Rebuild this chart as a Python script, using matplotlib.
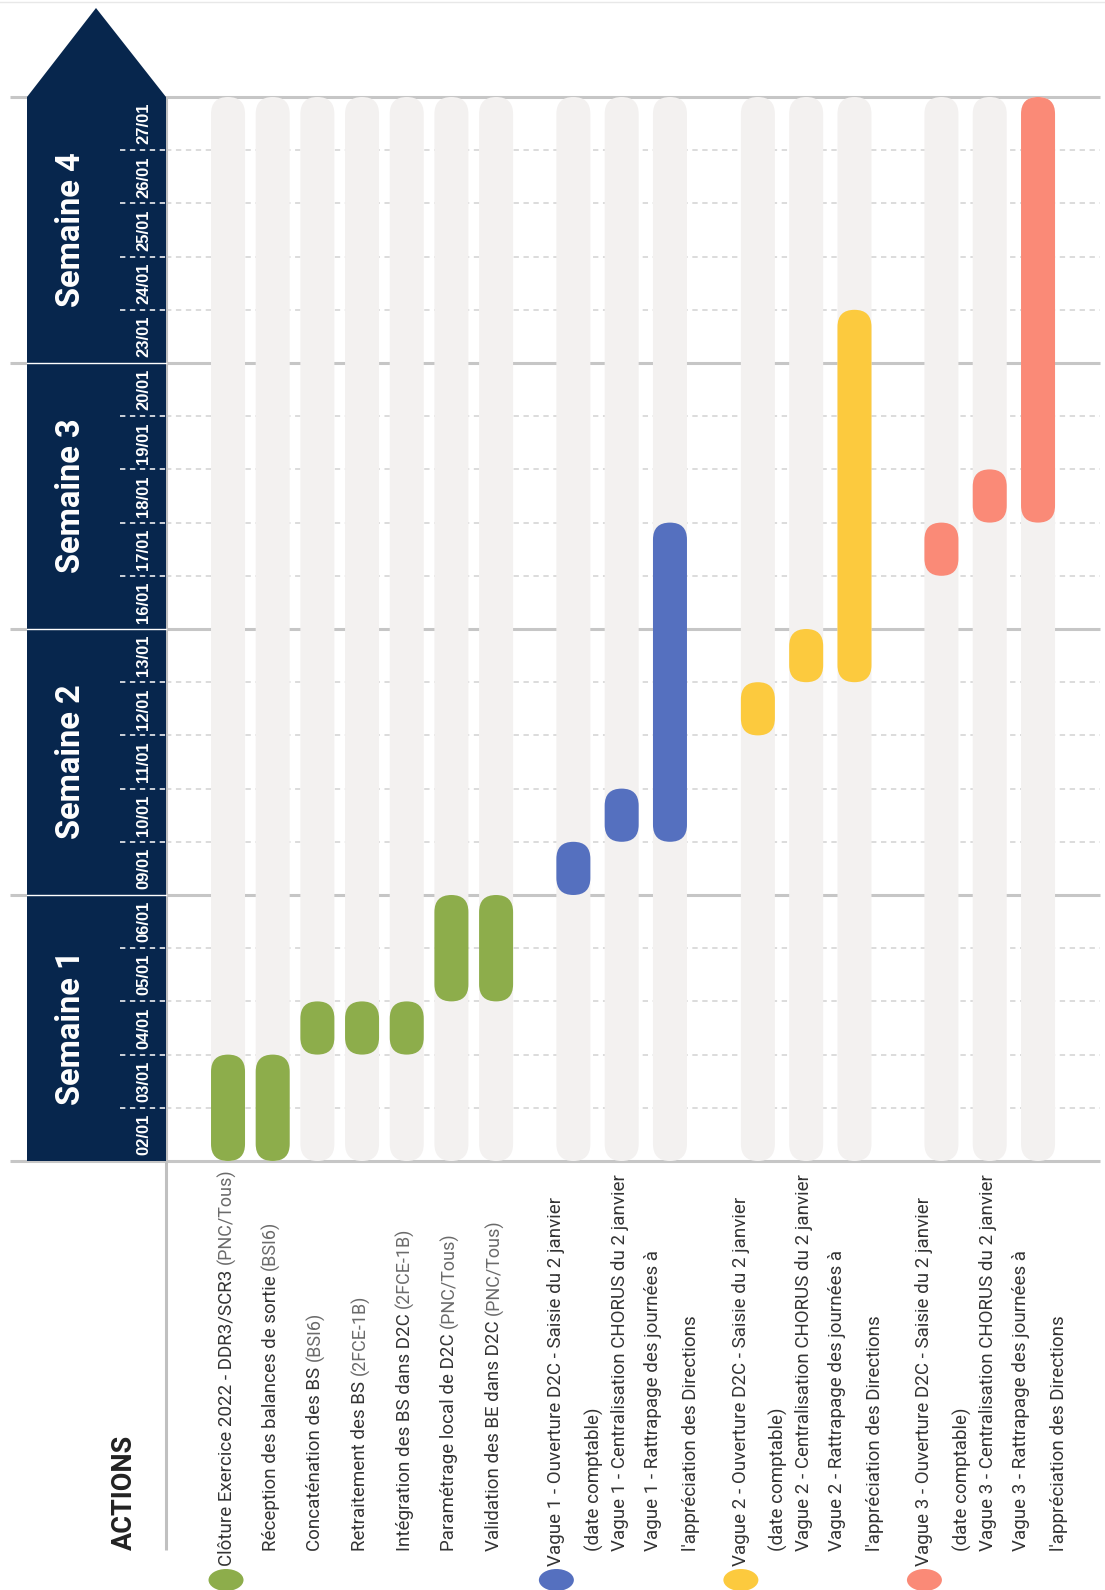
import matplotlib
matplotlib.use("Agg")
import matplotlib.pyplot as plt
import numpy as np
from matplotlib.patches import Ellipse, FancyBboxPatch, Polygon


DAYS = [
    "02/01", "03/01", "04/01", "05/01", "06/01",
    "09/01", "10/01", "11/01", "12/01", "13/01",
    "16/01", "17/01", "18/01", "19/01", "20/01",
    "23/01", "24/01", "25/01", "26/01", "27/01",
]
WEEKS = ["Semaine 1", "Semaine 2", "Semaine 3", "Semaine 4"]
DAYS_PER_WEEK = 5

TASKS = [
    "Clôture Exercice 2022 - DDR3/SCR3",
    "Réception des balances de sortie",
    "Concaténation des BS",
    "Retraitement des BS",
    "Intégration des BS dans D2C",
    "Paramétrage local de D2C",
    "Validation des BE dans D2C",
    "Vague 1 - Ouverture D2C - Saisie du 2 janvier\n(date comptable)",
    "Vague 1 - Centralisation CHORUS du 2 janvier",
    "Vague 1 - Rattrapage des journées à\nl'appréciation des Directions",
    "Vague 2 - Ouverture D2C - Saisie du 2 janvier\n(date comptable)",
    "Vague 2 - Centralisation CHORUS du 2 janvier",
    "Vague 2 - Rattrapage des journées à\nl'appréciation des Directions",
    "Vague 3 - Ouverture D2C - Saisie du 2 janvier\n(date comptable)",
    "Vague 3 - Centralisation CHORUS du 2 janvier",
    "Vague 3 - Rattrapage des journées à\nl'appréciation des Directions",
]
DETAILS = [
    "(PNC/Tous)", "(BSI6)", "(BSI6)", "(2FCE-1B)", "(2FCE-1B)", "(PNC/Tous)", "(PNC/Tous)",
    "", "", "", "", "", "", "", "", "",
]
GROUPS = [0, 0, 0, 0, 0, 0, 0, 1, 1, 1, 2, 2, 2, 3, 3, 3]
START_DAY = [0, 0, 2, 2, 2, 3, 3, 5, 6, 6, 8, 9, 9, 11, 12, 12]
N_DAYS = [2, 2, 1, 1, 1, 2, 2, 1, 1, 6, 1, 1, 7, 1, 1, 8]
GROUP_COLORS = ["#8dad4b", "#5570bf", "#fcca3e", "#fa8a77"]

# layout (pixels of the 1105x1590 output)
W, H = 1105, 1590
AX_L, AX_R, AX_T, AX_B = 166, 1100, 97, 1161
XLIM = (-1.284, 18.053)
GROUP_STEP = [0.925, 1.0, 1.0, 1.0]
GROUP_GAP = [0.0, 0.6, 0.82, 0.8]
BAR_PX = 34
LABEL_START_PX = 1551
BULLET_START_PX = 1566
LINE_OFFSETS_PX = {1: [3], 2: [-12, 26]}

NAVY = "#07264d"
BAR_BG = "#f3f1f0"
TEXT_COLOR = "#333333"
NARROW = ["Liberation Sans Narrow", "Roboto", "DejaVu Sans"]
REGULAR = ["Liberation Sans", "DejaVu Sans"]


def fx(px):
    return (px - AX_L) / (AX_R - AX_L)


def fy(py):
    return (AX_B - py) / (AX_B - AX_T)


def capsule(ax, x, y0, h, w, color, aspect, z):
    ax.add_patch(
        FancyBboxPatch(
            (x - w / 2, y0), w, h,
            boxstyle=f"round,pad=0,rounding_size={w / 2}",
            mutation_aspect=aspect, facecolor=color, edgecolor="none", zorder=z,
        )
    )


def row_positions():
    rows = []
    pos = 0.0
    for i, g in enumerate(GROUPS):
        if i > 0:
            pos += GROUP_STEP[g] if g == GROUPS[i - 1] else 1 + GROUP_GAP[g]
        rows.append(pos)
    return np.array(rows)


def main():
    fig = plt.figure(figsize=(W / 100, H / 100), dpi=100)
    ax = fig.add_axes([AX_L / W, 1 - AX_B / H, (AX_R - AX_L) / W, (AX_B - AX_T) / H])
    ax.set_xlim(*XLIM)
    ax.set_ylim(0, len(DAYS))
    ax.axis("off")

    rows = row_positions()
    p0 = ax.transData.transform((0, 0))
    p1 = ax.transData.transform((1, 1))
    px_x, px_y = p1[0] - p0[0], p1[1] - p0[1]
    aspect = px_x / px_y
    ytr = ax.get_yaxis_transform()
    xtr = ax.get_xaxis_transform()

    # grid: solid lines for weeks, dashed for days
    for d in range(len(DAYS) + 1):
        if d % DAYS_PER_WEEK == 0:
            ax.plot([fx(10), fx(1100)], [d, d], transform=ytr, color="#c6c6c6", lw=2.2,
                    solid_capstyle="butt", clip_on=False, zorder=0.5)
            if 0 < d < len(DAYS):
                ax.plot([fx(27), 0], [d, d], transform=ytr, color="white", lw=1.0,
                        clip_on=False, zorder=4)
        else:
            ax.plot([0, 1], [d, d], transform=ytr, color="#d2d2d2", lw=1.1,
                    ls=(0, (3.5, 3)), clip_on=False, zorder=0.5)
            ax.plot([fx(120), 0], [d, d], transform=ytr, color="white", lw=1.1,
                    ls=(0, (3.5, 3)), clip_on=False, zorder=4)
    ax.plot([0, 0], [fy(1550), 1], transform=ax.transAxes, color="#c0c0c0", lw=2.2,
            solid_capstyle="butt", clip_on=False, zorder=0.6)
    ax.plot([fx(0), fx(W)], [fy(2), fy(2)], transform=ax.transAxes, color="#e8e8e8",
            lw=1.0, clip_on=False, zorder=0.5)

    # header arrow
    ax.add_patch(Polygon([(fx(27), 0), (0, 0), (0, 1), (fx(96), fy(8)), (fx(27), 1)],
                         closed=True, transform=ax.transAxes, facecolor=NAVY,
                         edgecolor="none", zorder=3, clip_on=False))
    for k, week in enumerate(WEEKS):
        ax.text(fx(80), (k + 0.5) * DAYS_PER_WEEK, week, transform=ytr, rotation=90,
                rotation_mode="anchor", ha="center", va="baseline", color="white",
                fontsize=23.5, fontweight="bold", family=NARROW, zorder=5, clip_on=False)
    for d, day in enumerate(DAYS):
        ax.text(fx(148), d + 0.5, day, transform=ytr, rotation=90, rotation_mode="anchor",
                ha="center", va="baseline", color="white", fontsize=12, fontweight="bold",
                family=REGULAR, zorder=5, clip_on=False)

    # bars
    w = BAR_PX / px_x
    for i, x in enumerate(rows):
        capsule(ax, x, 0, len(DAYS), w, BAR_BG, aspect, 1)
        capsule(ax, x, START_DAY[i], N_DAYS[i], w, GROUP_COLORS[GROUPS[i]], aspect, 2)

    # action labels
    ax.text(fx(132), fy(1550), "ACTIONS", transform=ax.transAxes, rotation=90,
            rotation_mode="anchor", ha="left", va="baseline", color="#222222",
            fontsize=19.5, fontweight="bold", family=NARROW, clip_on=False)
    seen = set()
    for i, x in enumerate(rows):
        g = GROUPS[i]
        bullet = g not in seen
        seen.add(g)
        lines = TASKS[i].split("\n")
        offsets = LINE_OFFSETS_PX[len(lines)]
        first = None
        for j, (line, off) in enumerate(zip(lines, offsets)):
            start = BULLET_START_PX if (bullet and j == 0) else LABEL_START_PX
            t = ax.text(x + off / px_x, fy(start), line, transform=xtr, rotation=90,
                        rotation_mode="anchor", ha="left", va="baseline", color=TEXT_COLOR,
                        fontsize=13.5, family=NARROW, clip_on=False)
            if first is None:
                first = (t, off)
        if DETAILS[i]:
            ax.annotate(DETAILS[i], xy=(0.5, 1), xycoords=first[0], xytext=(0, 4),
                        textcoords="offset points", rotation=90, rotation_mode="anchor",
                        ha="left", va="center", color="#6a6a6a", fontsize=13,
                        family=NARROW, annotation_clip=False)
        if bullet:
            ax.add_patch(Ellipse((x + (first[1] - 5) / px_x, fy(1580)), width=35 / px_x,
                                 height=22 / (AX_B - AX_T), transform=xtr,
                                 facecolor=GROUP_COLORS[g], edgecolor="none", clip_on=False))

    fig.savefig("out.png", dpi=100, facecolor="white")
    plt.close(fig)


if __name__ == "__main__":
    main()
